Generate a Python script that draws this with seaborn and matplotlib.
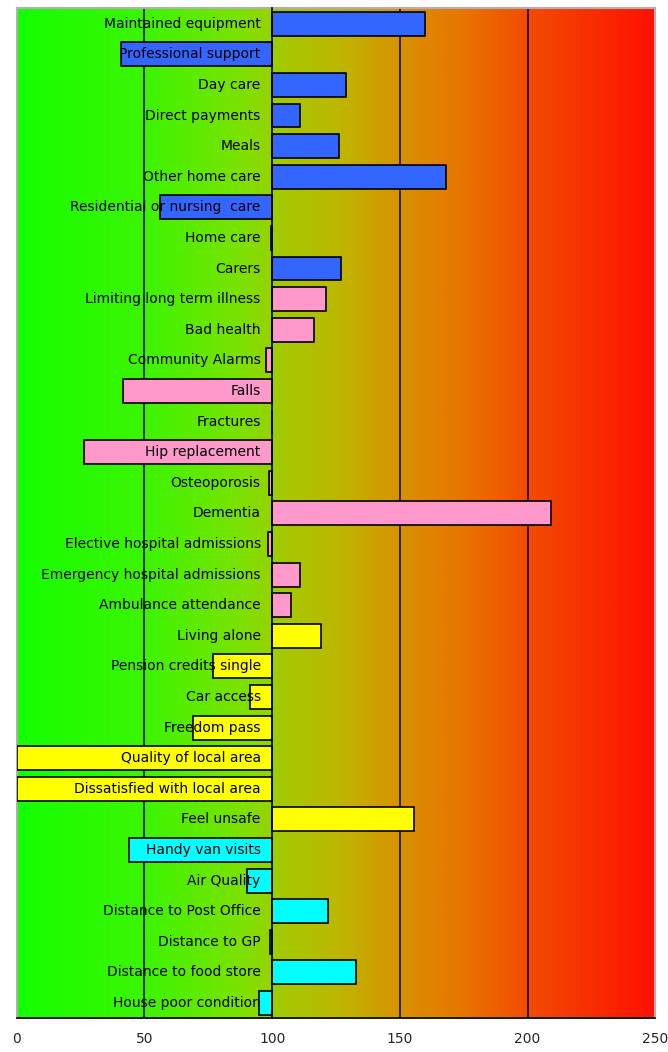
import numpy as np
import pandas as pd
import matplotlib
matplotlib.use('Agg')
import matplotlib.pyplot as plt
import seaborn as sns
from matplotlib.colors import LinearSegmentedColormap
from matplotlib.patches import Rectangle

sns.set_style('white')
plt.rcParams['font.family'] = ['Liberation Sans Narrow', 'DejaVu Sans']

# data: index values, 100 = average
categories = ['Maintained equipment', 'Professional support', 'Day care', 'Direct payments',
              'Meals', 'Other home care', 'Residential or nursing  care', 'Home care', 'Carers',
              'Limiting long term illness', 'Bad health', 'Community Alarms', 'Falls', 'Fractures',
              'Hip replacement', 'Osteoporosis', 'Dementia', 'Elective hospital admissions',
              'Emergency hospital admissions', 'Ambulance attendance', 'Living alone',
              'Pension credits single', 'Car access', 'Freedom pass', 'Quality of local area',
              'Dissatisfied with local area', 'Feel unsafe', 'Handy van visits', 'Air Quality',
              'Distance to Post Office', 'Distance to GP', 'Distance to food store',
              'House poor condition']
values = [160, 41, 129, 111, 126, 168, 56, 99.4, 127,
          121, 116.5, 97.5, 41.5, 100, 26.5, 98.8, 209, 98.5,
          111, 107.5, 119, 77, 91.5, 69, 0, 0, 155.5,
          44, 90, 122, 99.2, 133, 95]
groups = ['services'] * 9 + ['health'] * 11 + ['social'] * 7 + ['environment'] * 6
palette = {'services': '#3366ff', 'health': '#ff99cc', 'social': '#ffff00', 'environment': '#00ffff'}
x_ticks = [0, 50, 100, 150, 200, 250]
base = 100

df = pd.DataFrame({'category': categories, 'value': values, 'group': groups})
df['diff'] = df['value'] - base

fig, ax = plt.subplots(figsize=(6.68, 10.52), dpi=100)
fig.subplots_adjust(left=0.025, right=0.981, top=0.992, bottom=0.032)

# gradient background green -> red
cmap = LinearSegmentedColormap.from_list('bg', [
    (0.0, '#14ff00'), (0.2, '#3cf500'), (0.36, '#80e000'), (0.42, '#a6c800'),
    (0.5, '#bcb800'), (0.6, '#d89200'), (0.7, '#e87400'), (0.8, '#f24c00'), (1.0, '#ff1000')])
grad = np.linspace(0, 1, 512).reshape(1, -1)
n = len(categories)
ax.imshow(grad, cmap=cmap, aspect='auto', extent=[-base, 250 - base, n - 0.5, -0.5], zorder=0)

for g in [50, 150, 200]:
    ax.axvline(g - base, color='black', lw=1.1, zorder=1)

sns.barplot(data=df, x='diff', y='category', hue='group', palette=palette, dodge=False,
            orient='h', width=0.78, edgecolor='black', linewidth=1.2, legend=False,
            saturation=1, ax=ax, zorder=2)

ax.set_xlim(-base, 250 - base)
ax.set_ylim(n - 0.5, -0.5)
ax.set_xticks([t - base for t in x_ticks])
ax.set_xticklabels([str(t) for t in x_ticks], fontsize=10)
ax.set_yticks([])
ax.set_yticks(np.arange(-0.5, n, 1), minor=True)
ax.tick_params(axis='y', which='minor', direction='out', length=3, width=1, color='black')
ax.tick_params(axis='x', direction='out', length=4, width=1, color='black', pad=6)
ax.set_xlabel('')
ax.set_ylabel('')

ax.spines['left'].set_position(('data', 0))
ax.spines['left'].set_color('black')
ax.spines['left'].set_linewidth(1.2)
ax.spines['left'].set_zorder(3)
ax.spines['bottom'].set_color('black')
ax.spines['bottom'].set_linewidth(1.2)
for s in ['top', 'right']:
    ax.spines[s].set_color('#b0b0b0')
ax.add_patch(Rectangle((0, 0), 1, 1, transform=ax.transAxes, fill=False,
                       edgecolor='#b0b0b0', lw=1.5, zorder=0.5, clip_on=False))

for i, c in enumerate(categories):
    ax.text(-4.5, i, c, ha='right', va='center', fontsize=10, color='black', zorder=5)

plt.savefig('out.png', dpi=100)
